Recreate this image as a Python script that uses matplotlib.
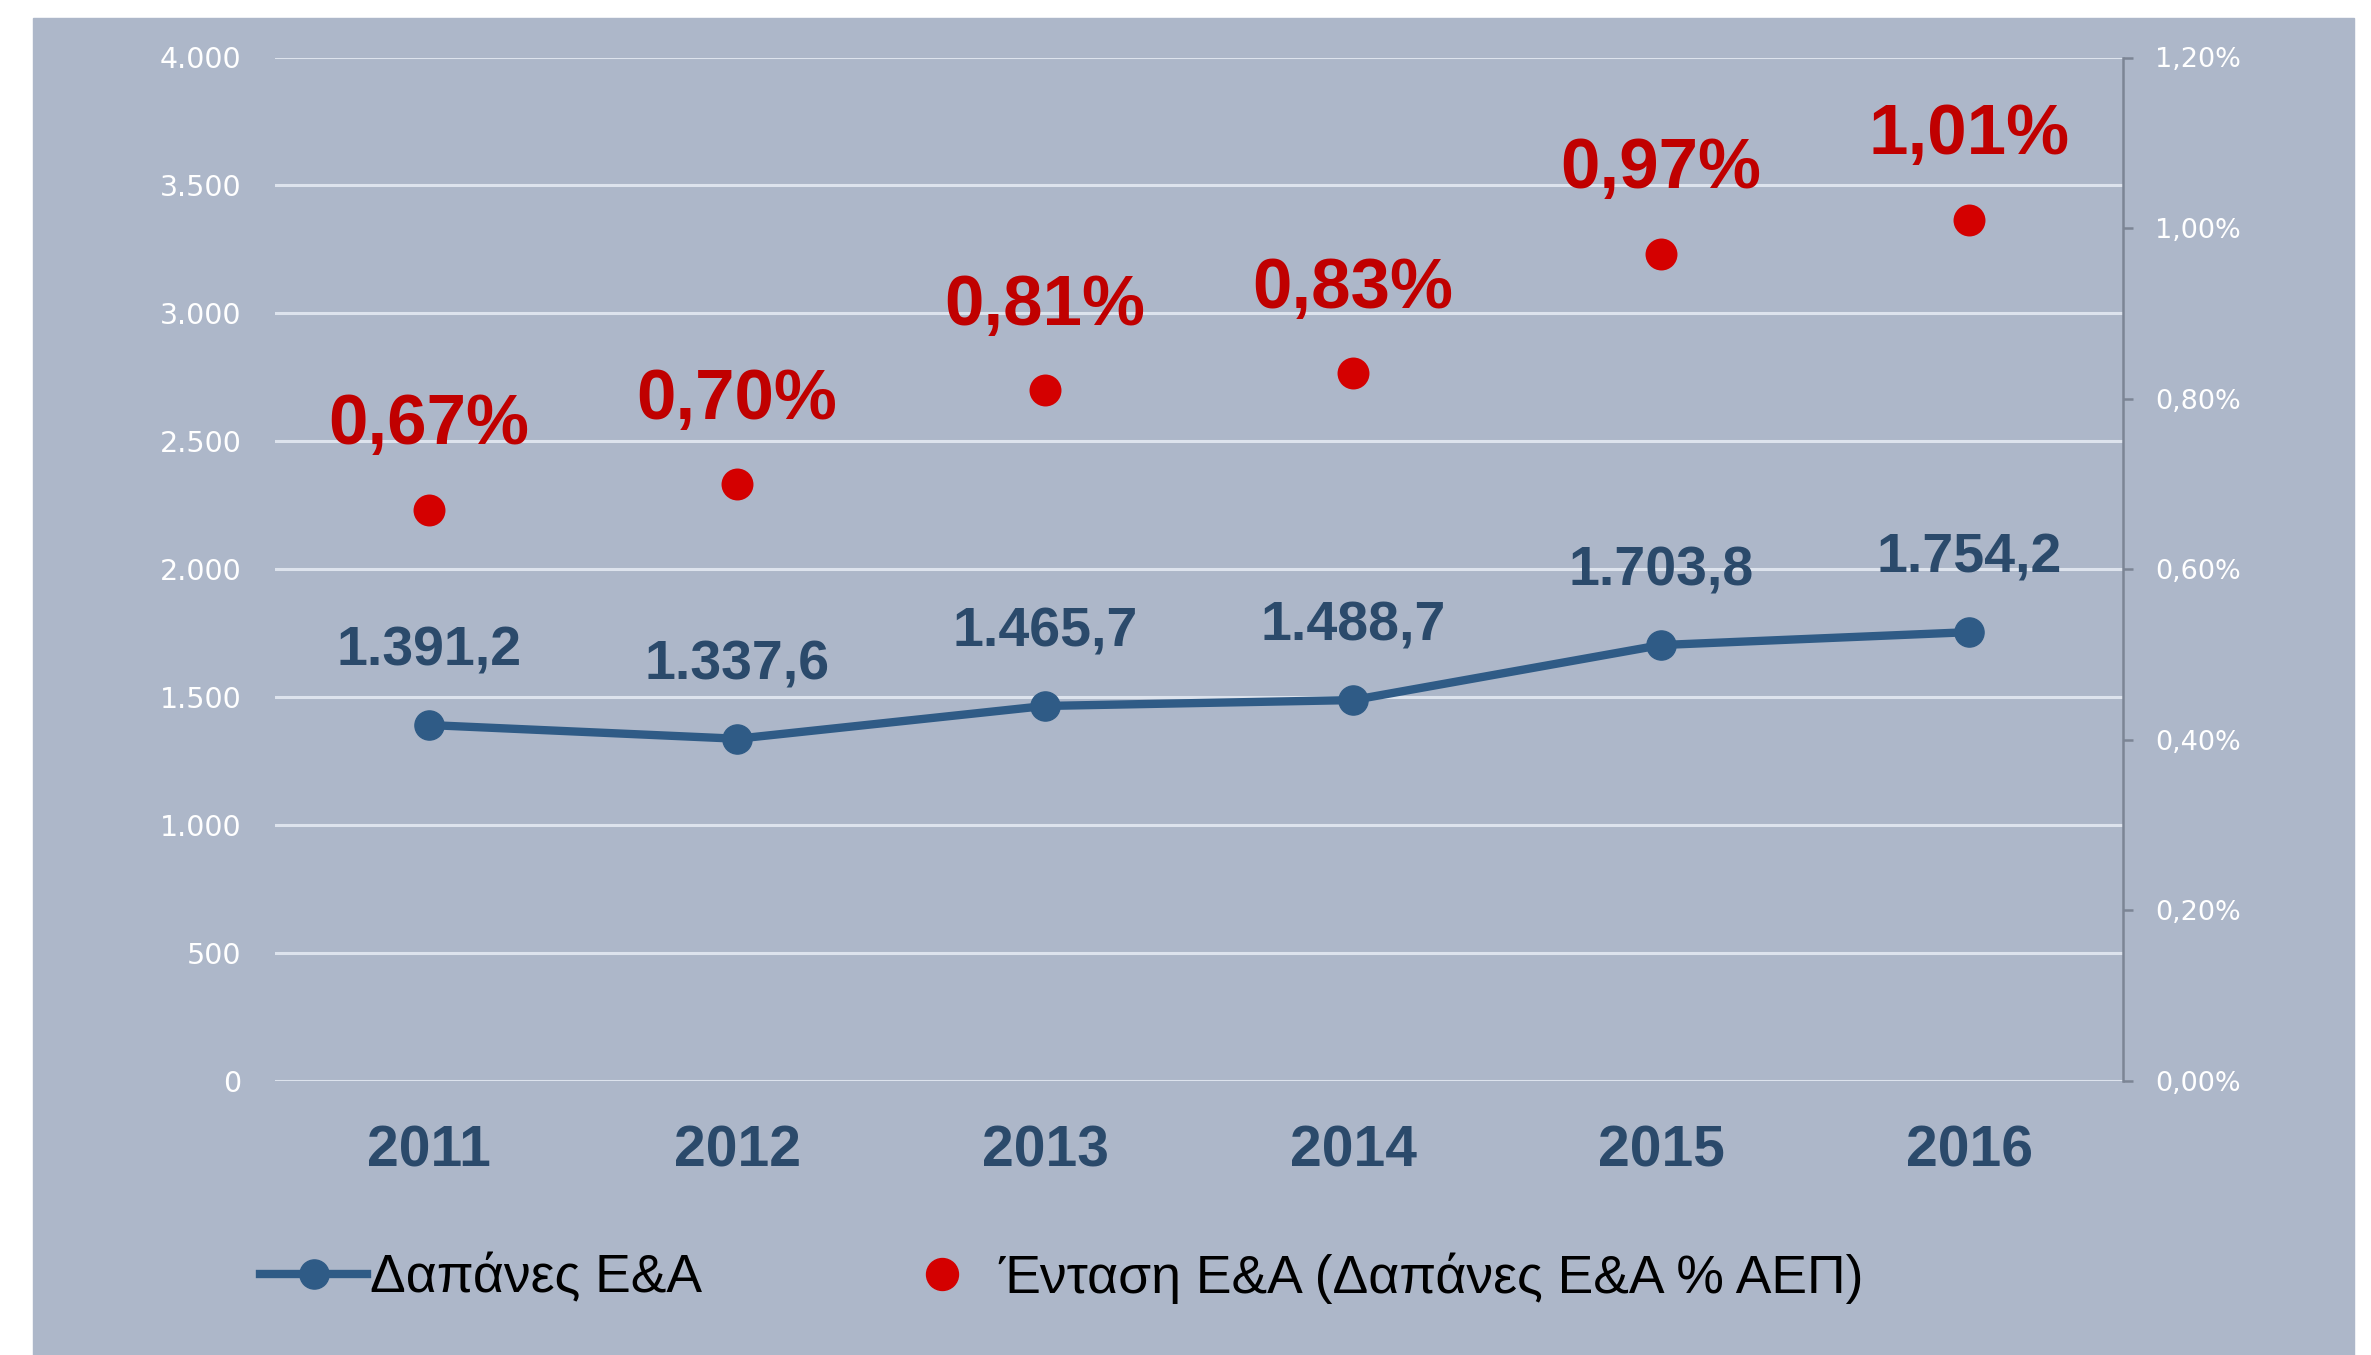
import matplotlib.pyplot as plt
from matplotlib.lines import Line2D
from matplotlib.patches import Rectangle

# data
years = ["2011", "2012", "2013", "2014", "2015", "2016"]
dapanes = [1391.2, 1337.6, 1465.7, 1488.7, 1703.8, 1754.2]
entasi = [0.67, 0.70, 0.81, 0.83, 0.97, 1.01]
left_ticks = [0, 500, 1000, 1500, 2000, 2500, 3000, 3500, 4000]
right_ticks = [0.0, 0.2, 0.4, 0.6, 0.8, 1.0, 1.2]

panel = "#adb7c9"
grid_col = "#dde3ed"
blue = "#2f5b86"
blue_txt = "#2b4a6b"
red = "#c00000"
dot_red = "#d40000"


def gr_num(v, dec):
    s = f"{v:,.{dec}f}"
    return s.replace(",", "X").replace(".", ",").replace("X", ".")


fig = plt.figure(figsize=(23.71, 13.55), dpi=100, facecolor="white")
fig.patches.append(Rectangle((33 / 2371, 0), (2354 - 33) / 2371, (1355 - 18) / 1355,
                             transform=fig.transFigure, color=panel, zorder=-10))

ax = fig.add_axes([275 / 2371, 1 - 1081 / 1355, (2123 - 275) / 2371, (1081 - 57.5) / 1355])
ax.set_facecolor("none")
x = list(range(len(years)))

ax.set_xlim(-0.5, 5.5)
ax.set_ylim(0, 4000)
ax.set_yticks(left_ticks)
ax.set_yticklabels([gr_num(v, 0) for v in left_ticks])
ax.yaxis.grid(True, color=grid_col, lw=2.2)
ax.set_axisbelow(True)
for s in ax.spines.values():
    s.set_visible(False)
ax.tick_params(axis="y", length=0, pad=24, labelsize=20.5, labelcolor="white")
ax.set_xticks(x)
ax.set_xticklabels(years, fontsize=41, fontweight="bold", color=blue_txt,
                   family="Liberation Sans")
ax.tick_params(axis="x", length=0, pad=31)

ax.plot(x, dapanes, color=blue, lw=6, marker="o", markersize=21, zorder=3)
for xi, v in zip(x, dapanes):
    ax.annotate(gr_num(v, 1), (xi, v), xytext=(0, 53), textcoords="offset points",
                ha="center", va="center", fontsize=40, fontweight="bold",
                color=blue_txt, family="Liberation Sans")

ax2 = ax.twinx()
ax2.set_ylim(0, 1.2)
ax2.set_yticks(right_ticks)
ax2.set_yticklabels([gr_num(v, 2) + "%" for v in right_ticks])
for k, s in ax2.spines.items():
    s.set_visible(k == "right")
ax2.spines["right"].set_color("#7c8595")
ax2.spines["right"].set_linewidth(1.8)
ax2.tick_params(axis="y", length=7, width=1.8, color="#7c8595", pad=16,
                labelsize=19.5, labelcolor="white")

ax2.scatter(x, entasi, s=23 ** 2, color=dot_red, zorder=4, linewidths=0)
for xi, v in zip(x, entasi):
    ax2.annotate(gr_num(v, 2) + "%", (xi, v), xytext=(0, 60), textcoords="offset points",
                 ha="center", va="center", fontsize=51, fontweight="bold",
                 color=red, family="Liberation Sans")

handles = [
    Line2D([], [], color=blue, lw=6, marker="o", markersize=21),
    Line2D([], [], color=dot_red, lw=0, marker="o", markersize=23),
]
labels = ["Δαπάνες Ε&Α", "Ένταση Ε&Α (Δαπάνες Ε&Α % ΑΕΠ)"]
fig.legend(handles, labels, loc="center left", bbox_to_anchor=(212 / 2371, 1 - 1278 / 1355),
           ncol=2, frameon=False, handlelength=2, handletextpad=0.05, columnspacing=3.5,
           prop={"family": "Liberation Sans", "size": 38.5})

fig.savefig("out.png", dpi=100, facecolor="white")
